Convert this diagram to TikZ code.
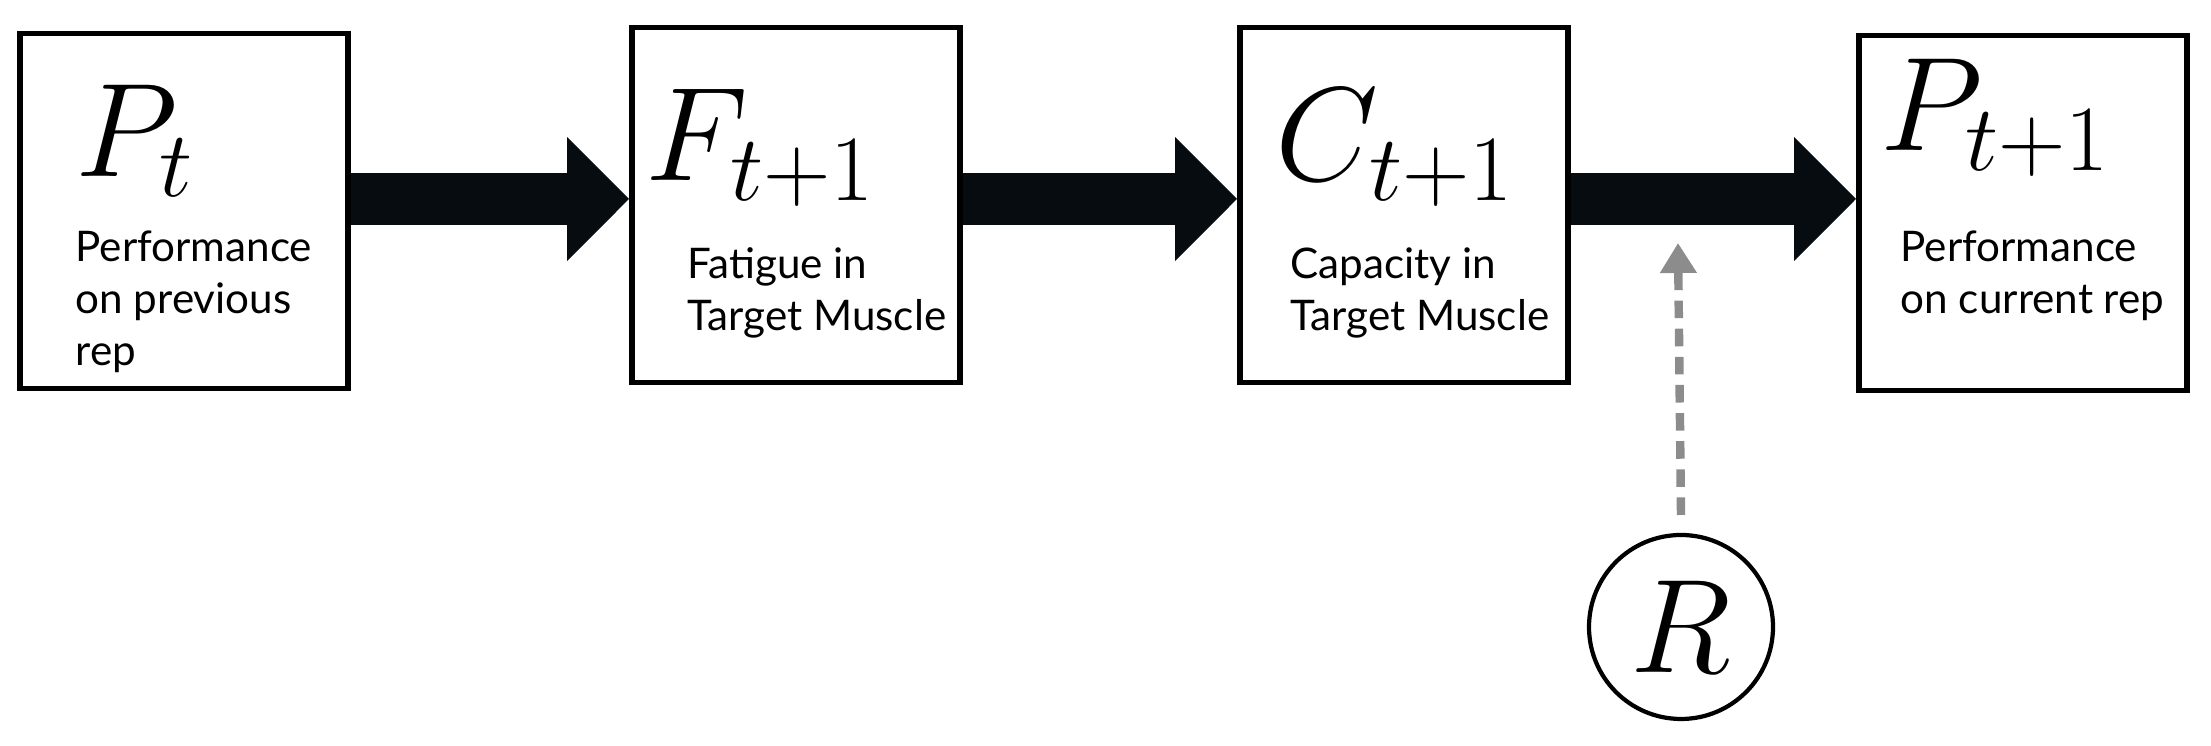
\RequirePackage{fix-cm}
\documentclass[tikz,border=0pt]{standalone}
\usepackage{fontspec}
\setmainfont{Lato}
\usetikzlibrary{arrows.meta,positioning}
\definecolor{arrowdark}{HTML}{070C10}
\definecolor{dotgray}{HTML}{8C8C8C}
\tikzset{
  stagebox/.style={draw,line width=1.6pt,minimum width=3.28cm,minimum height=3.55cm},
  symb/.style={anchor=west,inner sep=0pt,font=\fontsize{38}{42}\selectfont},
  caption/.style={anchor=north west,inner sep=0pt,align=left,font=\fontsize{12}{14.8}\selectfont},
  flow/.style={draw=arrowdark,line width=0.52cm,-{Triangle[length=0.62cm,width=1.2cm]}},
}
\begin{document}
\begin{tikzpicture}
  \useasboundingbox (0,0) rectangle (22.11,7.46);

  % ---- stages ------------------------------------------------
  \node[stagebox] (prev) at (1.84,5.35) {};
  \node[stagebox] (fat) at (7.96,5.41) {};
  \node[stagebox] (cap) at (14.04,5.41) {};
  \node[stagebox] (cur) at (20.23,5.33) {};

  % symbols
  \node[symb] (prevsym) at (0.75,6.05) {$P_t$};
  \node[symb] (fatsym) at (6.45,5.98) {$F_{t+1}$};
  \node[symb] (capsym) at (12.75,5.98) {$C_{t+1}$};
  \node[symb] (cursym) at (18.80,6.28) {$P_{t+1}$};

  % captions
  \node[caption] (prevtxt) at (0.75,5.16) {Performance\\on previous\\rep};
  \node[caption] (fattxt) at (6.87,4.99) {Fatigue in\\Target Muscle};
  \node[caption] (captxt) at (12.90,4.99) {Capacity in\\Target Muscle};
  \node[caption] (curtxt) at (19.00,5.16) {Performance\\on current rep};

  % ---- flow arrows -------------------------------------------
  \draw[flow] (prev.east|-0,5.47) -- (fat.west|-0,5.47);
  \draw[flow] (fat.east|-0,5.47) -- (cap.west|-0,5.47);
  \draw[flow] (cap.east|-0,5.47) -- (cur.west|-0,5.47);

  % ---- rest input --------------------------------------------
  \node[draw,circle,line width=1.2pt,minimum size=1.84cm,inner sep=0pt,
        font=\fontsize{38}{42}\selectfont] (rest) at (16.81,1.19) {$R$};
  \coordinate (resttip) at (16.78,5.03);
  \draw[dotgray,line width=2.4pt,dash pattern=on 5pt off 3pt,
        -{Triangle[length=0.3cm,width=0.35cm]}]
    (rest.north|-0,2.31) -- (resttip);
\end{tikzpicture}
\end{document}
